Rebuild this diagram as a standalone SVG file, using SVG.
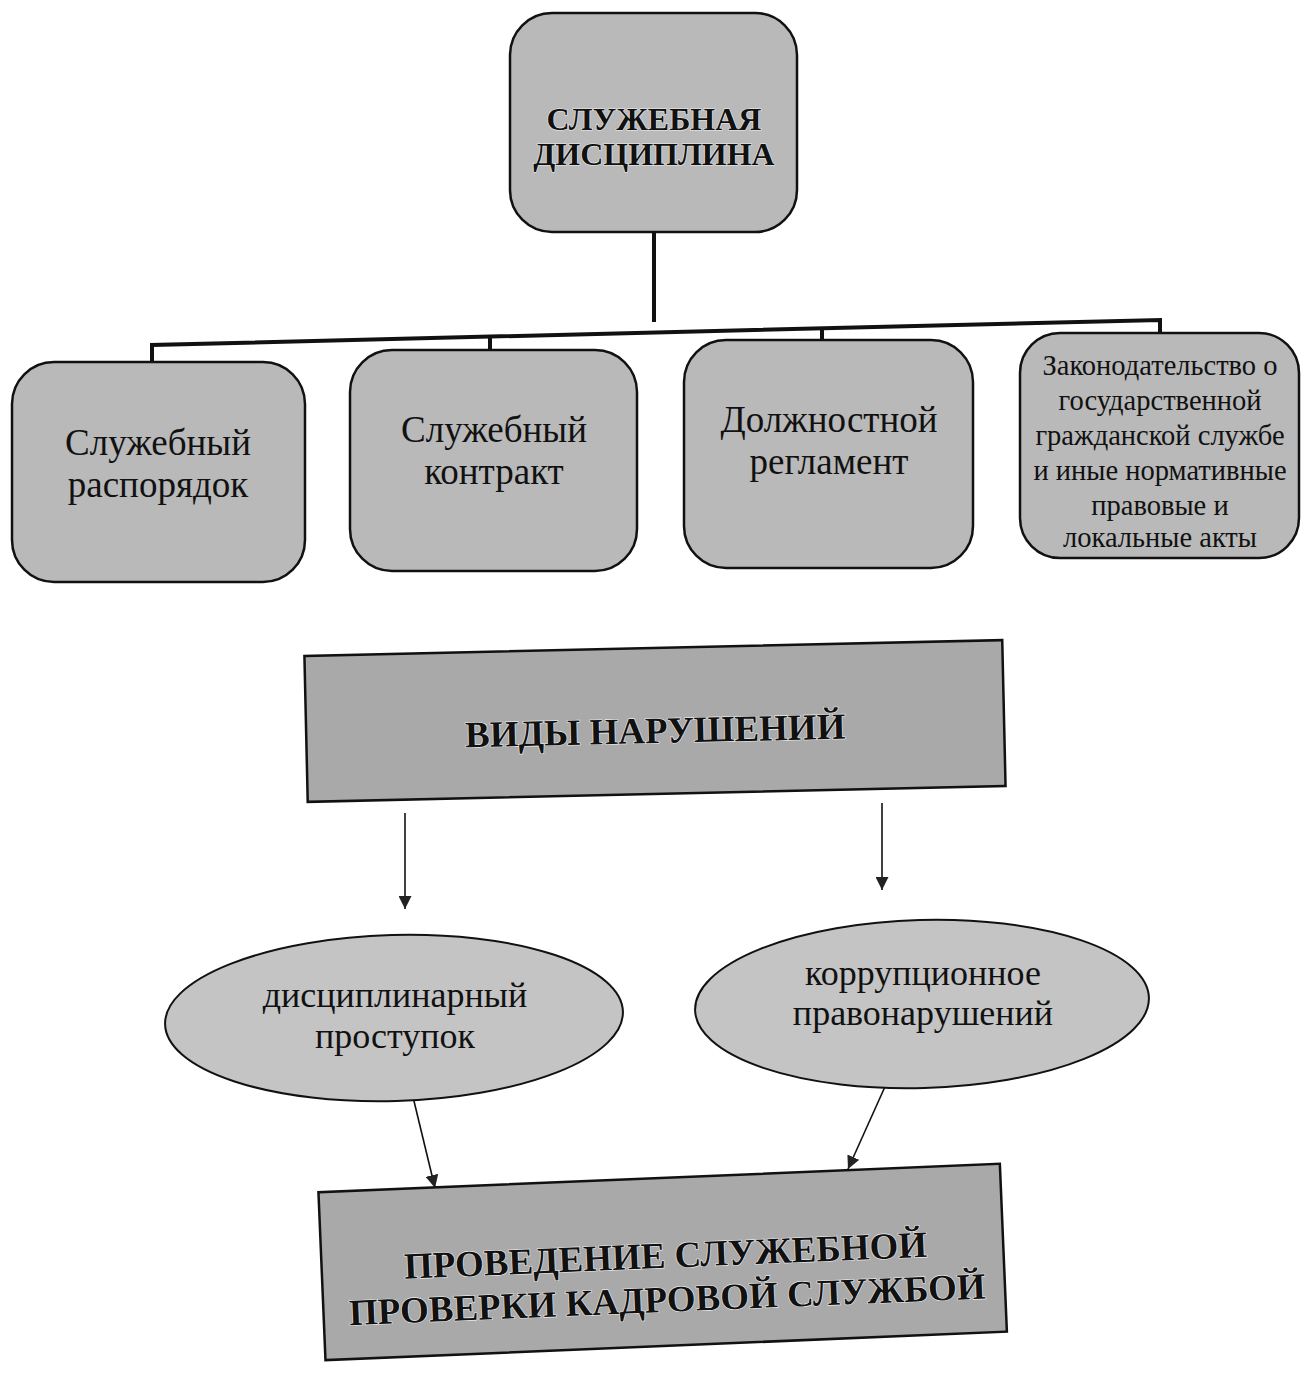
<svg xmlns="http://www.w3.org/2000/svg" width="1301" height="1373" viewBox="0 0 1301 1373">
<defs>
<style>
.box{fill:#b9b9b9;stroke:#111;stroke-width:2.5}
.rbox{fill:#a9a9a9;stroke:#111;stroke-width:2.5}
.ell{fill:#c4c4c4;stroke:#111;stroke-width:2}
.t{font-family:"Liberation Serif","Times New Roman",serif;fill:#111;text-anchor:middle}
.b{font-weight:bold;stroke:#eee;stroke-width:1.2;paint-order:stroke}
.tree{fill:none;stroke:#111;stroke-width:4}
.arr{fill:none;stroke:#111;stroke-width:1.6}
</style>
<marker id="ah2" viewBox="0 0 10 10" refX="10" refY="5" markerWidth="13" markerHeight="13" markerUnits="userSpaceOnUse" orient="auto">
<path d="M0,0 L10,5 L0,10 Z" fill="#222"/>
</marker>
</defs>
<rect width="1301" height="1373" fill="#fff"/>

<g id="connectors">
<path class="tree" d="M654,232 L654,322"/>
<path class="tree" d="M152,362 L152,345 L1160,320 L1160,333"/>
<path class="tree" d="M490,337 L490,350"/>
<path class="tree" d="M822,329 L822,340"/>
<path class="arr" d="M405,813 L405,909" marker-end="url(#ah2)"/>
<path class="arr" d="M882,803 L882,890" marker-end="url(#ah2)"/>
<path class="arr" d="M413,1097 L435,1188" marker-end="url(#ah2)"/>
<path class="arr" d="M888,1080 L848,1169" marker-end="url(#ah2)"/>
</g>

<g id="node-discipline">
<rect class="box" x="510" y="13" width="287" height="219" rx="42"/>
<text class="t b" x="654" y="130" font-size="32">СЛУЖЕБНАЯ</text>
<text class="t b" x="654" y="165" font-size="32">ДИСЦИПЛИНА</text>
</g>

<g id="node-rasporyadok">
<rect class="box" x="12" y="362" width="293" height="220" rx="42"/>
<text class="t" x="158" y="455" font-size="37">Служебный</text>
<text class="t" x="158" y="497" font-size="37">распорядок</text>
</g>

<g id="node-kontrakt">
<rect class="box" x="350" y="350" width="287" height="221" rx="42"/>
<text class="t" x="494" y="442" font-size="37">Служебный</text>
<text class="t" x="494" y="484" font-size="37">контракт</text>
</g>

<g id="node-reglament">
<rect class="box" x="684" y="340" width="289" height="228" rx="42"/>
<text class="t" x="829" y="432" font-size="37">Должностной</text>
<text class="t" x="829" y="474" font-size="37">регламент</text>
</g>

<g id="node-zakon">
<rect class="box" x="1020" y="333" width="279" height="225" rx="40"/>
<text class="t" x="1160" y="375" font-size="28.5">Законодательство о</text>
<text class="t" x="1160" y="410" font-size="28.5">государственной</text>
<text class="t" x="1160" y="445" font-size="28.5">гражданской службе</text>
<text class="t" x="1160" y="480" font-size="28.5">и иные нормативные</text>
<text class="t" x="1160" y="515" font-size="28.5">правовые и</text>
<text class="t" x="1160" y="547" font-size="28.5">локальные акты</text>
</g>

<g id="node-vidy" transform="rotate(-1.3 655 722)">
<rect class="rbox" x="306" y="648" width="698" height="146"/>
<text class="t b" x="655" y="743" font-size="37">ВИДЫ НАРУШЕНИЙ</text>
</g>

<g id="node-disciplinary">
<ellipse class="ell" cx="394" cy="1018" rx="229" ry="83" transform="rotate(-1.6 394 1018)"/>
<text class="t" x="395" y="1007" font-size="36">дисциплинарный</text>
<text class="t" x="395" y="1048" font-size="36">проступок</text>
</g>

<g id="node-corruption">
<ellipse class="ell" cx="922" cy="1004" rx="227" ry="84" transform="rotate(-1.6 922 1004)"/>
<text class="t" x="923" y="985" font-size="36">коррупционное</text>
<text class="t" x="923" y="1025" font-size="36">правонарушений</text>
</g>

<g id="node-proverka" transform="rotate(-2.4 662 1270)">
<rect class="rbox" x="322" y="1178" width="682" height="168"/>
<text class="t b" x="666" y="1268" font-size="37">ПРОВЕДЕНИЕ СЛУЖЕБНОЙ</text>
<text class="t b" x="666" y="1312" font-size="37">ПРОВЕРКИ КАДРОВОЙ СЛУЖБОЙ</text>
</g>
</svg>
